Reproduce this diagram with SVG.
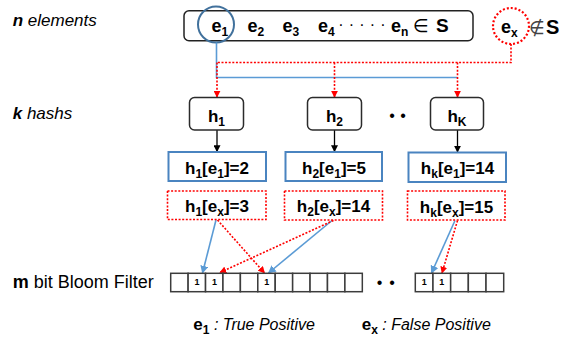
<svg xmlns="http://www.w3.org/2000/svg" width="562" height="342" viewBox="0 0 562 342">
<style>
text{font-family:"Liberation Sans","DejaVu Sans",sans-serif;fill:#000}
.b{font-weight:bold}
.i{font-style:italic}
.lbl{font-size:17px}
.hb{fill:#fff;stroke:#2b2b2b;stroke-width:1.5}
.vb{fill:#fff;stroke:#4a84c0;stroke-width:2}
.rb{fill:#fff;stroke:#ff0000;stroke-width:1.6;stroke-dasharray:2 1.6}
.blue{fill:none;stroke:#5b9bd5;stroke-width:1.6}
.red{fill:none;stroke:#ff0000;stroke-width:1.6;stroke-dasharray:2 1.6}
.blk{fill:none;stroke:#000;stroke-width:1.3}
.cell{fill:#fff;stroke:#3c3c3c;stroke-width:1.5}
.one{font-size:9px;font-weight:bold;text-anchor:middle}
.bt{font-size:17px;font-weight:bold;text-anchor:middle}
.sub{font-size:12px}
</style>
<defs>
<marker id="ar" viewBox="0 0 10 10" refX="9" refY="5" markerWidth="7" markerHeight="7" markerUnits="userSpaceOnUse" orient="auto"><path d="M0,0 L10,5 L0,10 z" fill="#ff0000"/></marker>
<marker id="ab" viewBox="0 0 10 10" refX="9" refY="5" markerWidth="8" markerHeight="8" markerUnits="userSpaceOnUse" orient="auto"><path d="M0,0 L10,5 L0,10 z" fill="#5b9bd5"/></marker>
<marker id="ak" viewBox="0 0 10 10" refX="9" refY="5" markerWidth="7" markerHeight="7" markerUnits="userSpaceOnUse" orient="auto"><path d="M0,0 L10,5 L0,10 z" fill="#000"/></marker>
</defs>

<g id="labels">
<text x="12.7" y="26" class="lbl i"><tspan class="b">n</tspan> elements</text>
<text x="12.7" y="118.5" class="lbl i"><tspan class="b">k</tspan> hashs</text>
<text x="12.7" y="287.5" style="font-size:18px"><tspan class="b">m</tspan> bit Bloom Filter</text>
</g>

<g id="set">
<rect x="184" y="10.7" width="289" height="30" rx="5" fill="#fff" stroke="#222" stroke-width="1.5"/>
<text y="32" class="b" style="font-size:18px"><tspan x="211.5">e</tspan><tspan class="sub" dy="4">1</tspan><tspan x="247.5" dy="-4">e</tspan><tspan class="sub" dy="4">2</tspan><tspan x="282.5" dy="-4">e</tspan><tspan class="sub" dy="4">3</tspan><tspan x="318" dy="-4">e</tspan><tspan class="sub" dy="4">4</tspan></text>
<text x="341 351.5 362 372.5 383" y="30" style="font-size:16px;text-anchor:middle">·····</text>
<text y="32" class="b" style="font-size:18px"><tspan x="391">e</tspan><tspan class="sub" dy="4">n</tspan></text>
<text x="413" y="32" style="font-size:18px">∈</text>
<text x="436" y="32" class="b" style="font-size:19px">S</text>
</g>

<g id="e1-mark">
<circle cx="216" cy="24.5" r="18" fill="none" stroke="#41719c" stroke-width="2"/>
</g>

<g id="ex">
<circle cx="511" cy="26" r="18" fill="none" stroke="#ff0000" stroke-width="2.2" stroke-dasharray="2 2"/>
<text y="33" class="b" style="font-size:18px"><tspan x="501">e</tspan><tspan class="sub" dy="4">x</tspan></text>
<text x="529" y="34" style="font-size:18px;fill:#444">∉</text>
<text x="546" y="34" class="b" style="font-size:20px">S</text>
</g>

<g id="connectors">
<path class="blue" d="M216.5,42.5 V77.5 H457.5"/>
<path class="red" d="M511,44 V62.5 H217"/>
<path class="red" d="M217,62.5 V97" marker-end="url(#ar)"/>
<path class="red" d="M334.5,62.5 V97" marker-end="url(#ar)"/>
<path class="red" d="M457.5,62.5 V97" marker-end="url(#ar)"/>
<path class="blk" d="M217,130 V151.5" marker-end="url(#ak)"/>
<path class="blk" d="M334.5,130 V151.5" marker-end="url(#ak)"/>
<path class="blk" d="M457.5,130 V152" marker-end="url(#ak)"/>
<path class="blue" d="M216,220 L202.5,273" marker-end="url(#ab)"/>
<path class="blue" d="M332,220.5 L268.5,273" marker-end="url(#ab)"/>
<path class="blue" d="M455,220.5 L431.5,273" marker-end="url(#ab)"/>
<path class="red" d="M217.5,220 L264.5,273" marker-end="url(#ar)"/>
<path class="red" d="M333.5,220.5 L220,272.5" marker-end="url(#ar)"/>
<path class="red" d="M457.5,220.5 L442,273" marker-end="url(#ar)"/>
</g>

<g id="h1">
<rect class="hb" x="189.5" y="97.5" width="54" height="32.5" rx="5"/>
<text x="216.5" y="121.5" class="bt">h<tspan class="sub" dy="4">1</tspan></text>
</g>
<g id="h2">
<rect class="hb" x="307.5" y="97.5" width="54" height="32.5" rx="5"/>
<text x="334.5" y="121.5" class="bt">h<tspan class="sub" dy="4">2</tspan></text>
</g>
<g id="hK">
<rect class="hb" x="430.5" y="97.5" width="53" height="32.5" rx="5"/>
<text x="457" y="121.5" class="bt">h<tspan class="sub" dy="4">K</tspan></text>
</g>
<g id="hdots">
<text x="392" y="121" style="font-size:16px;text-anchor:middle">•</text>
<text x="403" y="121" style="font-size:16px;text-anchor:middle">•</text>
</g>

<g id="v1e1">
<rect class="vb" x="168.5" y="152" width="97.5" height="29"/>
<text x="217" y="173.5" class="bt">h<tspan class="sub" dy="4">1</tspan><tspan dy="-4">[e</tspan><tspan class="sub" dy="4">1</tspan><tspan dy="-4">]=2</tspan></text>
</g>
<g id="v2e1">
<rect class="vb" x="285.5" y="152" width="96.5" height="29"/>
<text x="334" y="173.5" class="bt">h<tspan class="sub" dy="4">2</tspan><tspan dy="-4">[e</tspan><tspan class="sub" dy="4">1</tspan><tspan dy="-4">]=5</tspan></text>
</g>
<g id="vke1">
<rect class="vb" x="408.5" y="152.5" width="97.5" height="29.5"/>
<text x="457.5" y="174" class="bt">h<tspan class="sub" dy="4">k</tspan><tspan dy="-4">[e</tspan><tspan class="sub" dy="4">1</tspan><tspan dy="-4">]=14</tspan></text>
</g>

<g id="v1ex">
<rect class="rb" x="167.5" y="191" width="98.5" height="28.5"/>
<text x="217" y="212" class="bt">h<tspan class="sub" dy="4">1</tspan><tspan dy="-4">[e</tspan><tspan class="sub" dy="4">x</tspan><tspan dy="-4">]=3</tspan></text>
</g>
<g id="v2ex">
<rect class="rb" x="284.5" y="191" width="98" height="29"/>
<text x="333.5" y="212" class="bt">h<tspan class="sub" dy="4">2</tspan><tspan dy="-4">[e</tspan><tspan class="sub" dy="4">x</tspan><tspan dy="-4">]=14</tspan></text>
</g>
<g id="vkex">
<rect class="rb" x="407.5" y="191" width="97.5" height="29"/>
<text x="456.5" y="212.5" class="bt">h<tspan class="sub" dy="4">k</tspan><tspan dy="-4">[e</tspan><tspan class="sub" dy="4">x</tspan><tspan dy="-4">]=15</tspan></text>
</g>

<g id="bloom1">
<rect class="cell" x="170.7" y="273.3" width="17.42" height="18.4"/>
<rect class="cell" x="188.12" y="273.3" width="17.42" height="18.4"/>
<rect class="cell" x="205.54" y="273.3" width="17.42" height="18.4"/>
<rect class="cell" x="222.96" y="273.3" width="17.42" height="18.4"/>
<rect class="cell" x="240.38" y="273.3" width="17.42" height="18.4"/>
<rect class="cell" x="257.8" y="273.3" width="17.42" height="18.4"/>
<rect class="cell" x="275.22" y="273.3" width="17.42" height="18.4"/>
<rect class="cell" x="292.64" y="273.3" width="17.42" height="18.4"/>
<rect class="cell" x="310.06" y="273.3" width="17.42" height="18.4"/>
<rect class="cell" x="327.48" y="273.3" width="17.42" height="18.4"/>
<rect class="cell" x="344.9" y="273.3" width="17.42" height="18.4"/>
<text x="197" y="285" class="one">1</text>
<text x="214.5" y="285" class="one">1</text>
<text x="266.8" y="285" class="one">1</text>
</g>
<g id="bdots">
<text x="379.5" y="287.5" style="font-size:16px;text-anchor:middle">•</text>
<text x="392" y="287.5" style="font-size:16px;text-anchor:middle">•</text>
</g>
<g id="bloom2">
<rect class="cell" x="415.3" y="273.3" width="17.68" height="18.4"/>
<rect class="cell" x="432.98" y="273.3" width="17.68" height="18.4"/>
<rect class="cell" x="450.66" y="273.3" width="17.68" height="18.4"/>
<rect class="cell" x="468.34" y="273.3" width="17.68" height="18.4"/>
<rect class="cell" x="486.02" y="273.3" width="17.68" height="18.4"/>
<text x="424.2" y="285" class="one">1</text>
<text x="441.8" y="285" class="one">1</text>
</g>

<g id="legend">
<text x="193.3" y="330" style="font-size:17px"><tspan class="b">e</tspan><tspan class="b sub" dy="4">1</tspan><tspan class="i" dy="-4" style="font-size:16px"> : True Positive</tspan></text>
<text x="361.7" y="330" style="font-size:17px"><tspan class="b">e</tspan><tspan class="b sub" dy="4">x</tspan><tspan class="i" dy="-4" style="font-size:16px"> : False Positive</tspan></text>
</g>
</svg>
